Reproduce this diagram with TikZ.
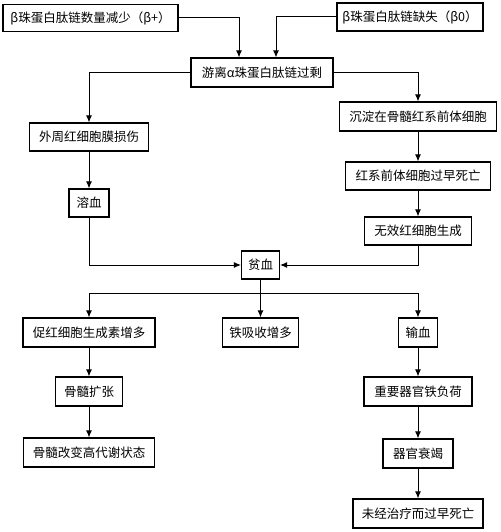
\documentclass[tikz,border=0pt]{standalone}
\usepackage{fontspec}
\newfontfamily\cjk{Noto Sans CJK SC}
\usetikzlibrary{arrows.meta,calc}
\tikzset{
  bx/.style={draw, line width=1.1pt, inner sep=0pt, font=\cjk\fontsize{12.5}{14}\selectfont},
  conn/.style={line width=1pt},
  arr/.style={conn, -{Latex[length=7pt,width=6pt]}}
}
\newcommand{\bx}[6]{\node[bx, minimum width=#4pt, minimum height=#5pt] (#1) at (#2,-#3) {#6};}
\begin{document}
\begin{tikzpicture}[x=1pt,y=1pt]
\useasboundingbox (0,0) rectangle (500,-532);
\bx{b1}{90.5}{18}{175}{27}{β珠蛋白肽链数量减少（β+）}
\bx{b2}{410}{17}{146}{28}{β珠蛋白肽链缺失（β0）}
\bx{b3}{262}{72.5}{142}{29}{游离α珠蛋白肽链过剩}
\bx{b4}{89}{137}{119}{28}{外周红细胞膜损伤}
\bx{b5}{418}{116.5}{157}{29}{沉淀在骨髓红系前体细胞}
\bx{b6}{418}{176}{145}{28}{红系前体细胞过早死亡}
\bx{b7}{418}{231}{107}{28}{无效红细胞生成}
\bx{b8}{89}{203}{40}{28}{溶血}
\bx{b9}{260.5}{265}{38}{28}{贫血}
\bx{b10}{89}{332.5}{132}{29}{促红细胞生成素增多}
\bx{b11}{260.5}{332.5}{76}{29}{铁吸收增多}
\bx{b12}{418}{332.5}{39}{29}{输血}
\bx{b13}{89}{391.5}{67}{29}{骨髓扩张}
\bx{b14}{418}{391.5}{108}{29}{重要器官铁负荷}
\bx{b15}{89}{452.5}{131}{29}{骨髓改变高代谢状态}
\bx{b16}{418}{453.5}{70}{29}{器官衰竭}
\bx{b17}{418}{513.5}{130}{29}{未经治疗而过早死亡}
\coordinate (t1) at ($(b3.north)+(-23,0)$);
\coordinate (t2) at ($(b3.north)+(14,0)$);
\coordinate (bus) at (260.5,-293);
\draw[arr] (b1.east) -| (t1);
\draw[arr] (b2.west) -| (t2);
\draw[arr] (b3.west) -| (b4.north);
\draw[arr] (b3.east) -| (b5.north);
\draw[arr] (b4) -- (b8);
\draw[arr] (b5) -- (b6);
\draw[arr] (b6) -- (b7);
\draw[arr] (b8.south) |- (b9.west);
\draw[arr] (b7.south) |- (b9.east);
\draw[conn] (b9.south) -- (bus);
\draw[arr] (bus) -| (b10.north);
\draw[arr] (bus) -| (b12.north);
\draw[arr] (bus) -- (b11.north);
\draw[arr] (b10) -- (b13);
\draw[arr] (b13) -- (b15);
\draw[arr] (b12) -- (b14);
\draw[arr] (b14) -- (b16);
\draw[arr] (b16) -- (b17);
\end{tikzpicture}
\end{document}
